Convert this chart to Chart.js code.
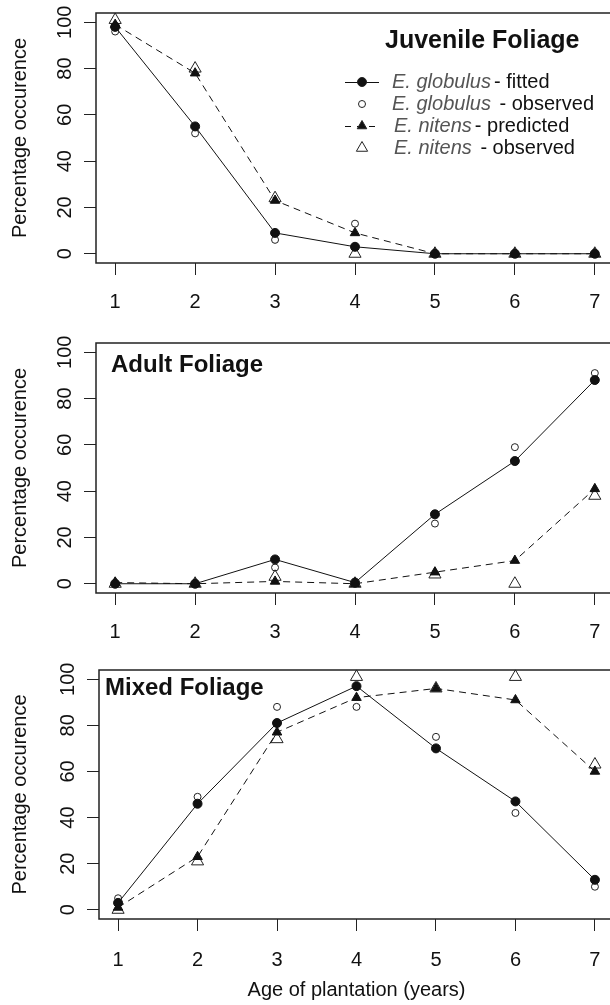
<!DOCTYPE html>
<html>
<head>
<meta charset="utf-8">
<script src="https://cdn.jsdelivr.net/npm/chart.js@4.4.0/dist/chart.umd.min.js"></script>
<style>
  html, body { margin: 0; padding: 0; background: #fff; overflow: hidden; }
  #wrap { position: relative; width: 610px; height: 1005px; overflow: hidden; }
  canvas { position: absolute; left: 0; }
</style>
</head>
<body>
<div id="wrap">
  <canvas id="juv" width="614" height="330" style="top:0px"></canvas>
  <canvas id="adult" width="614" height="330" style="top:330px"></canvas>
  <canvas id="mixed" width="614" height="345" style="top:660px"></canvas>
</div>
<script>
// age of plantation (years)
const ages = [1, 2, 3, 4, 5, 6, 7];
const yTicks = [0, 20, 40, 60, 80, 100];

// juvenile foliage, % occurence
const juvGlobFit = [98, 55, 9, 3, 0, 0, 0];
const juvGlobObs = [96, 52, 6, 13, 0, 0, 0];
const juvNitPred = [99, 78, 23, 9, 0, 0, 0];
const juvNitObs = [101, 80, 24, 0, 0, 0, 0];

// adult foliage
const adGlobFit = [0, 0, 10.5, 0.5, 30, 53, 88];
const adGlobObs = [0, 0, 7, 0, 26, 59, 91];
const adNitPred = [0.5, 0, 1, 0, 5, 10, 41];
const adNitObs = [0, 0, 3, 0, 4, 0, 38];

// mixed foliage
const mxGlobFit = [3, 46, 81, 97, 70, 47, 13];
const mxGlobObs = [5, 49, 88, 88, 75, 42, 10];
const mxNitPred = [1, 23, 77, 92, 96, 91, 60];
const mxNitObs = [0, 21, 74, 101, 96, 101, 63];

const FONT = '"Liberation Sans", Arial, sans-serif';
const INK = '#111';

function pts(vals) {
  return vals.map((v, i) => ({ x: ages[i], y: v }));
}

function seriesSets(fit, obs, pred, nobs) {
  return [
    { data: pts(fit), showLine: true, borderColor: INK, borderWidth: 1,
      pointStyle: 'circle', pointRadius: 4.5, pointBackgroundColor: INK, pointBorderColor: INK, pointBorderWidth: 1 },
    { data: pts(obs), showLine: false,
      pointStyle: 'circle', pointRadius: 3.5, pointBackgroundColor: 'rgba(0,0,0,0)', pointBorderColor: '#222', pointBorderWidth: 1 },
    { data: pts(pred), showLine: true, borderColor: INK, borderWidth: 1, borderDash: [7, 5],
      pointStyle: 'triangle', pointRadius: 5.5, pointBackgroundColor: INK, pointBorderColor: INK, pointBorderWidth: 1 },
    { data: pts(nobs), showLine: false,
      pointStyle: 'triangle', pointRadius: 7, pointBackgroundColor: 'rgba(0,0,0,0)', pointBorderColor: '#222', pointBorderWidth: 1 }
  ];
}

const legendRows = [
  { it: 'E. globulus', rest: '- fitted', sym: 'fit' },
  { it: 'E. globulus', rest: ' - observed', sym: 'obs' },
  { it: 'E. nitens', rest: '- predicted', sym: 'pred' },
  { it: 'E. nitens', rest: ' - observed', sym: 'nobs' }
];

const frame = {
  id: 'frame',
  beforeDatasetsDraw(chart) {
    const { ctx, chartArea: a } = chart;
    ctx.save();
    ctx.strokeStyle = '#222';
    ctx.lineWidth = 1.5;
    ctx.strokeRect(a.left, a.top, a.right - a.left, a.bottom - a.top);
    // R style vertical tick labels
    const ys = chart.scales.y;
    ctx.fillStyle = INK;
    ctx.font = '20px ' + FONT;
    ctx.textAlign = 'center';
    ctx.textBaseline = 'alphabetic';
    yTicks.forEach(v => {
      ctx.save();
      ctx.translate(a.left - 25, ys.getPixelForValue(v));
      ctx.rotate(-Math.PI / 2);
      ctx.fillText(String(v), 0, 0);
      ctx.restore();
    });
    ctx.restore();
  },
  afterDraw(chart, args, opts) {
    const ctx = chart.ctx;
    ctx.save();
    ctx.fillStyle = INK;
    ctx.font = 'bold ' + opts.tsize + 'px ' + FONT;
    ctx.textAlign = 'left';
    ctx.textBaseline = 'alphabetic';
    ctx.fillText(opts.title, opts.tx, opts.ty);

    if (opts.legend) {
      const H = Chart.helpers;
      const rowY = [82, 104, 126, 148];
      legendRows.forEach((r, i) => {
        const y = rowY[i];
        ctx.strokeStyle = INK;
        ctx.fillStyle = INK;
        ctx.lineWidth = 1;
        if (r.sym === 'fit' || r.sym === 'pred') {
          ctx.setLineDash(r.sym === 'pred' ? [6, 6] : []);
          ctx.beginPath();
          ctx.moveTo(345, y + 0.5);
          ctx.lineTo(379, y + 0.5);
          ctx.stroke();
          ctx.setLineDash([]);
        }
        const st = {
          fit: { pointStyle: 'circle', radius: 4.5, fill: true },
          obs: { pointStyle: 'circle', radius: 3.5, fill: false },
          pred: { pointStyle: 'triangle', radius: 5.5, fill: true },
          nobs: { pointStyle: 'triangle', radius: 6.5, fill: false }
        }[r.sym];
        ctx.fillStyle = st.fill ? INK : 'rgba(0,0,0,0)';
        ctx.strokeStyle = '#222';
        H.drawPoint(ctx, { pointStyle: st.pointStyle, radius: st.radius, rotation: 0, borderWidth: 1 }, 362, y);

        const x0 = i < 2 ? 392 : 394;
        ctx.textBaseline = 'middle';
        ctx.font = 'italic 20px ' + FONT;
        ctx.fillStyle = '#555';
        ctx.fillText(r.it, x0, y);
        const w = ctx.measureText(r.it).width;
        ctx.font = '20px ' + FONT;
        ctx.fillStyle = INK;
        ctx.fillText(r.rest, x0 + w + 3, y);
      });
    }
    ctx.restore();
  }
};

function makePanel(id, sets, p) {
  return new Chart(document.getElementById(id), {
    type: 'line',
    data: { datasets: sets },
    plugins: [frame],
    options: {
      responsive: false,
      animation: false,
      elements: { line: { tension: 0 } },
      datasets: { line: { clip: false } },
      layout: { autoPadding: false, padding: { top: p.padTop, left: 0, right: 0, bottom: 0 } },
      plugins: {
        legend: { display: false },
        tooltip: { enabled: false },
        frame: { title: p.title, tsize: p.tsize, tx: p.tx, ty: p.ty, legend: p.legend }
      },
      scales: {
        x: {
          type: 'linear',
          min: 0.76,
          max: 7.24,
          afterBuildTicks: s => { s.ticks = ages.map(v => ({ value: v })); },
          afterFit: s => { s.height = p.xh; s.paddingLeft = 0; s.paddingRight = 0; },
          grid: { drawOnChartArea: false, drawTicks: true, tickLength: 12, tickColor: '#222', lineWidth: 1 },
          border: { display: false },
          ticks: { color: INK, font: { family: FONT, size: 20 }, padding: p.tickPad, maxRotation: 0, autoSkip: false },
          title: {
            display: !!p.xTitle,
            text: p.xTitle || '',
            color: INK,
            font: { family: FONT, size: 20 },
            padding: { top: 0, bottom: 3 }
          }
        },
        y: {
          type: 'linear',
          min: -4,
          max: 104,
          afterBuildTicks: s => { s.ticks = yTicks.map(v => ({ value: v })); },
          afterFit: s => { s.width = p.yw; s.paddingTop = 0; s.paddingBottom = 0; },
          grid: { drawOnChartArea: false, drawTicks: true, tickLength: 12, tickColor: '#222', lineWidth: 1 },
          border: { display: false },
          ticks: { display: false },
          title: {
            display: true,
            text: 'Percentage occurence',
            color: INK,
            font: { family: FONT, size: 20 },
            padding: { top: 8, bottom: 0 }
          }
        }
      }
    }
  });
}

makePanel('juv', seriesSets(juvGlobFit, juvGlobObs, juvNitPred, juvNitObs),
  { padTop: 13, xh: 67, yw: 96, tickPad: 15, title: 'Juvenile Foliage', tsize: 25, tx: 385, ty: 48, legend: true });
makePanel('adult', seriesSets(adGlobFit, adGlobObs, adNitPred, adNitObs),
  { padTop: 13, xh: 67, yw: 96, tickPad: 15, title: 'Adult Foliage', tsize: 24, tx: 111, ty: 42, legend: false });
makePanel('mixed', seriesSets(mxGlobFit, mxGlobObs, mxNitPred, mxNitObs),
  { padTop: 10, xh: 86, yw: 99, tickPad: 17, title: 'Mixed Foliage', tsize: 24, tx: 105, ty: 35, legend: false,
    xTitle: 'Age of plantation (years)' });
</script>
</body>
</html>
